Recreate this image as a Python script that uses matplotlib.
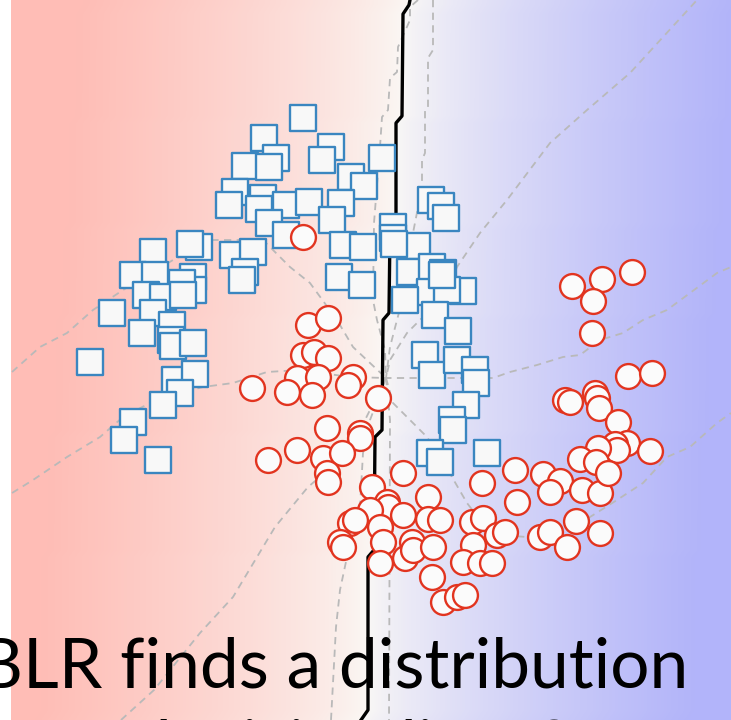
import numpy as np
import matplotlib.pyplot as plt
from matplotlib.colors import LinearSegmentedColormap

# class 0 (blue squares), feature coordinates
sq_x = [303, 264, 276, 245, 269, 331, 322, 382, 351, 364, 235, 229, 263, 259, 286, 309, 341,
        269, 286, 332, 343, 363, 393, 393, 417, 431, 441, 446, 410, 432, 443, 463, 430, 447,
        405, 339, 362, 199, 190, 233, 253, 245, 242, 193, 193, 153, 133, 155, 182, 146, 163,
        183, 112, 153, 172, 142, 171, 173, 193, 175, 195, 180, 163, 133, 124, 158, 90, 435,
        458, 425, 432, 457, 475, 476, 466, 452, 453, 430, 440, 487, 394, 442]
sq_y = [118, 138, 158, 166, 167, 147, 160, 158, 177, 186, 192, 205, 198, 209, 205, 202, 203,
        223, 235, 220, 245, 247, 227, 238, 246, 200, 206, 218, 272, 267, 273, 291, 292, 290,
        300, 277, 285, 247, 244, 255, 252, 272, 280, 277, 290, 252, 275, 275, 283, 295, 297,
        295, 313, 313, 325, 333, 340, 346, 343, 380, 374, 393, 405, 422, 440, 460, 362, 315,
        331, 355, 375, 360, 370, 383, 405, 420, 430, 453, 462, 453, 244, 275]

# class 1 (red circles)
ci_x = [303, 308, 328, 303, 314, 328, 297, 318, 287, 312, 353, 348, 252, 378, 327, 360, 360,
        297, 268, 323, 342, 327, 328, 403, 372, 428, 387, 388, 370, 403, 350, 355, 428, 440,
        380, 340, 343, 383, 412, 405, 413, 433, 380, 432, 443, 457, 465, 482, 472, 483, 473,
        463, 480, 492, 497, 505, 515, 517, 540, 550, 567, 576, 600, 543, 560, 550, 582, 600,
        572, 602, 632, 593, 592, 628, 652, 565, 570, 595, 597, 599, 618, 627, 615, 617, 650,
        598, 580, 596, 608]
ci_y = [237, 325, 318, 355, 352, 358, 378, 377, 392, 395, 377, 385, 388, 398, 428, 433, 438,
        450, 460, 458, 453, 473, 482, 473, 487, 497, 502, 507, 510, 515, 523, 520, 519, 520,
        527, 542, 547, 542, 542, 558, 550, 547, 563, 577, 602, 597, 595, 483, 522, 518, 545,
        562, 563, 563, 535, 532, 470, 502, 537, 532, 547, 521, 533, 474, 481, 492, 490, 493,
        286, 279, 272, 301, 333, 376, 373, 400, 402, 393, 398, 408, 422, 443, 444, 450, 451,
        448, 459, 462, 473]

# posterior-mean decision boundary
bnd_x = [410, 409, 403, 402, 396, 396, 390, 389, 383, 382, 375, 374, 368, 368, 361]
bnd_y = [0, 5, 14, 116, 123, 222, 230, 313, 320, 430, 437, 550, 557, 710, 720]

# boundaries of a few posterior samples
samples = [
    ([12, 40, 67, 93, 123, 173, 213, 263, 290, 310, 337, 353, 386],
     [372, 347, 333, 310, 290, 260, 240, 240, 267, 283, 320, 347, 378]),
    ([12, 33, 67, 100, 123, 150, 180, 203, 233, 267, 300, 350, 386, 450, 493, 510, 537, 563,
      580, 600, 623, 643, 667, 690, 717, 731],
     [493, 480, 457, 437, 417, 403, 393, 387, 383, 372, 370, 377, 378, 378, 378, 372, 365, 357,
      355, 340, 333, 320, 310, 293, 273, 267]),
    ([121, 154, 200, 233, 275, 308, 340, 360, 375, 386, 390, 407, 423, 443, 457, 480, 507, 550,
      587, 630, 697],
     [720, 690, 633, 597, 527, 487, 460, 430, 400, 378, 360, 333, 317, 300, 267, 233, 200, 143,
      110, 73, 0]),
    ([386, 393, 410, 427, 445, 467, 480, 500, 540, 570, 590, 617, 643, 667, 690, 717, 731],
     [378, 403, 420, 437, 465, 503, 520, 535, 538, 530, 517, 500, 483, 457, 447, 423, 413]),
    ([386, 370, 363, 360, 347, 340, 336, 331], [378, 420, 453, 507, 557, 590, 627, 720]),
    ([386, 390, 389], [378, 420, 720]),
    ([433, 433, 428, 428, 425, 425, 422, 422, 413, 405, 397, 390, 386],
     [0, 50, 58, 107, 110, 153, 160, 187, 233, 290, 320, 347, 378]),
    ([418, 410, 410, 398, 397, 390, 388, 382, 380, 374, 373, 377, 385, 386],
     [0, 7, 20, 47, 72, 78, 110, 117, 147, 223, 300, 320, 350, 378]),
]

title_lines = ["BLR finds a distribution", "over decision lines?"]

W, H = 731, 720
fig = plt.figure(figsize=(W / 100, H / 100), dpi=100)
ax = fig.add_axes([0, 0, 1, 1])
ax.set_xlim(0, W)
ax.set_ylim(H, 0)
ax.axis("off")

# predictive probability shading, centred on the mean boundary
gx, gy = np.meshgrid(np.arange(11, W) + 0.5, np.arange(H) + 0.5)
xb = np.interp(gy, bnd_y, bnd_x)
t = np.clip((gx - xb) / 330.0, -1, 1)
t = np.sign(t) * np.abs(t) ** 0.75
cmap = LinearSegmentedColormap.from_list("rb", ["#ffbdb6", "#faf8f5", "#b2b4fa"])
ax.imshow((t + 1) / 2, cmap=cmap, vmin=0, vmax=1, extent=(11, W, H, 0),
          aspect="auto", interpolation="bilinear", zorder=0)

for sx, sy in samples:
    ax.plot(sx, sy, color="#b9b9b9", lw=1.3, ls=(0, (4, 3)), zorder=1)
ax.plot(bnd_x, bnd_y, color="black", lw=2.4, zorder=2)

ax.scatter(sq_x, sq_y, s=330, marker="s", facecolor="#f8f8f8", edgecolor="#3a86c0",
           linewidth=1.7, zorder=3)
ax.scatter(ci_x, ci_y, s=320, marker="o", facecolor="#fbfbfb", edgecolor="#e2341f",
           linewidth=1.7, zorder=4)

for i, line in enumerate(title_lines):
    ax.text(-22, 688 + 82 * i, line, fontsize=50, family=["Lato", "DejaVu Sans"],
            color="black", ha="left", va="baseline", zorder=5)

fig.savefig("out.png", dpi=100)
